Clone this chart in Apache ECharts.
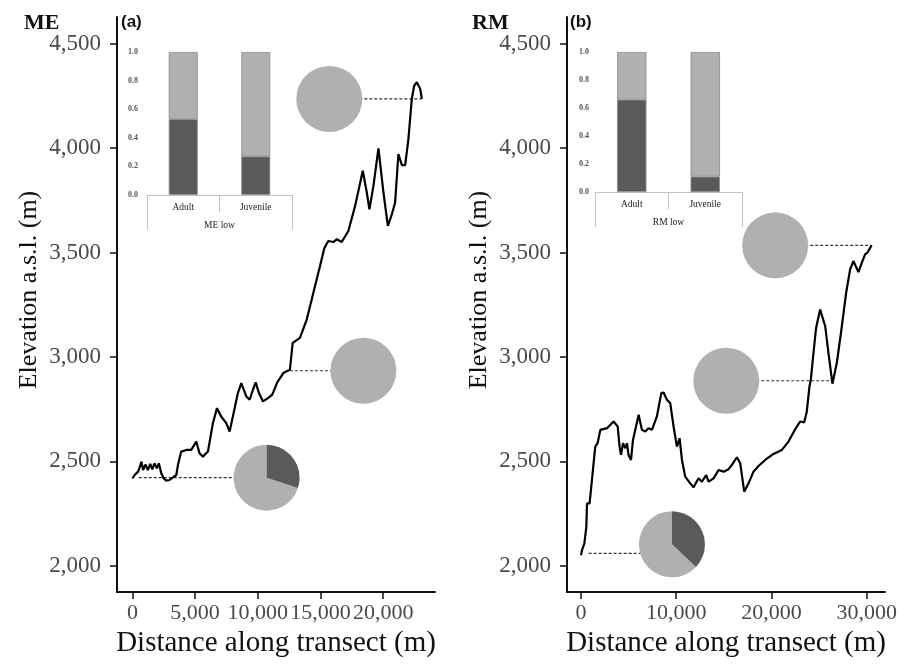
<!DOCTYPE html>
<html>
<head>
<meta charset="utf-8">
<script src="https://cdn.jsdelivr.net/npm/echarts@6/dist/echarts.min.js"></script>
<style>
html,body{margin:0;padding:0;background:#fff;}
#chart{width:909px;height:665px;}
</style>
</head>
<body>
<div id="chart"></div>
<script>
// ---------------- DATA ----------------
const yTicks = [2000, 2500, 3000, 3500, 4000, 4500];
const meXTicks = [0, 5000, 10000, 15000, 20000];
const rmXTicks = [0, 10000, 20000, 30000];
const insetTicks = [0, 0.2, 0.4, 0.6, 0.8, 1.0];
const insetCats = ['Adult', 'Juvenile'];
const meGroup = ['ME low'];
const rmGroup = ['RM low'];

// stacked proportions (dark = lower part, light = upper part)
const meDark = [0.53, 0.27];
const meLight = [0.47, 0.73];
const rmDark = [0.66, 0.11];
const rmLight = [0.34, 0.89];

// elevation profiles [distance (m), elevation (m)]
const meProfile = [
  [0,2419],[180,2435],[450,2451],[580,2472],[720,2499],[850,2459],[1050,2485],[1230,2459],
  [1420,2488],[1580,2462],[1760,2491],[1950,2467],[2110,2491],[2300,2443],[2490,2419],[2700,2408],
  [2960,2411],[3230,2424],[3500,2435],[3630,2483],[3890,2547],[4290,2555],[4690,2555],[5090,2595],
  [5350,2539],[5620,2523],[6020,2547],[6420,2683],[6740,2755],[7080,2715],[7480,2683],[7750,2643],
  [8010,2715],[8410,2827],[8680,2875],[9080,2811],[9350,2795],[9610,2843],[9830,2878],[10090,2827],
  [10410,2787],[10810,2803],[11150,2820],[11550,2878],[12030,2923],[12560,2939],[12780,3067],[13360,3091],
  [13900,3179],[14430,3307],[14960,3435],[15300,3520],[15620,3555],[16020,3550],[16290,3563],[16690,3550],
  [17220,3603],[17760,3723],[18370,3891],[18690,3787],[18900,3707],[19220,3819],[19620,3998],[20020,3787],
  [20370,3627],[20690,3683],[20950,3739],[21210,3971],[21490,3918],[21750,3918],[22010,4043],[22280,4235],
  [22470,4298],[22680,4315],[22950,4283],[23080,4235]
];
const rmProfile = [
  [0,2051],[105,2075],[350,2107],[560,2187],[630,2299],[900,2299],[1150,2411],[1320,2491],
  [1500,2571],[1740,2587],[2030,2651],[2730,2659],[3420,2691],[3850,2667],[4050,2571],[4200,2531],
  [4410,2587],[4650,2563],[4830,2587],[4990,2531],[5250,2507],[5460,2603],[5700,2651],[6050,2723],
  [6400,2651],[6750,2643],[7090,2659],[7450,2651],[7970,2715],[8430,2827],[8670,2830],[9020,2795],
  [9370,2779],[9720,2667],[10070,2571],[10350,2611],[10600,2507],[10940,2427],[11470,2395],[11820,2376],
  [12340,2419],[12700,2403],[13150,2435],[13390,2403],[13920,2419],[14440,2459],[14970,2451],[15490,2463],
  [15840,2483],[16370,2520],[16720,2491],[17140,2355],[17590,2395],[18110,2451],[18640,2478],[19340,2507],
  [20210,2536],[21090,2555],[21790,2595],[22490,2654],[23010,2691],[23430,2686],[23710,2739],[23990,2859],
  [24130,2891],[24590,3099],[24690,3140],[25110,3227],[25640,3147],[25980,3019],[26400,2872],[26860,2971],
  [27390,3147],[27840,3307],[28260,3419],[28600,3459],[29130,3406],[29490,3451],[29830,3491],[30070,3499],
  [30360,3523],[30530,3534]
];

// pies: [distance, elevation, dark fraction]
const mePies = [[15700, 4235, 0], [18420, 2934, 0], [10700, 2422, 0.30]];
const rmPies = [[20390, 3534, 0], [15250, 2886, 0], [9550, 2103, 0.37]];
// connectors: [from distance, to distance, elevation]
const meLinks = [[15700, 23080, 4235], [12560, 18420, 2934], [500, 10700, 2422]];
const rmLinks = [[20390, 30530, 3534], [15250, 26400, 2886], [800, 9550, 2060]];

const yTitle = 'Elevation a.s.l. (m)';
const xTitle = 'Distance along transect (m)';

// ---------------- STYLE ----------------
const SERIF = "'Liberation Serif', 'Times New Roman', serif";
const SANS = "'Liberation Sans', Arial, sans-serif";
const DARK = '#5a5a5a';
const LIGHT = '#b0b0b0';
const fmt = v => Number(v).toLocaleString('en-US');

function mainX(gi, min, max, ticks) {
  return {
    type: 'value', gridIndex: gi, min: min, max: max,
    name: xTitle, nameLocation: 'middle', nameGap: 33,
    nameTextStyle: { fontFamily: SERIF, fontSize: 29, color: '#111' },
    axisLine: { show: true, onZero: false, lineStyle: { color: '#111', width: 2 } },
    axisTick: { show: true, length: 7, customValues: ticks, lineStyle: { color: '#111', width: 1.5 } },
    axisLabel: { customValues: ticks, formatter: fmt, fontFamily: SERIF, fontSize: 22, color: '#4a4a4a', margin: 10, hideOverlap: false },
    splitLine: { show: false }
  };
}
function mainY(gi) {
  return {
    type: 'value', gridIndex: gi, min: 1875, max: 4627,
    axisLine: { show: true, onZero: false, lineStyle: { color: '#111', width: 2 } },
    axisTick: { show: true, length: 7, customValues: yTicks, lineStyle: { color: '#111', width: 1.5 } },
    axisLabel: { customValues: yTicks, formatter: fmt, fontFamily: SERIF, fontSize: 23, color: '#4a4a4a', margin: 16, hideOverlap: false },
    splitLine: { show: false }
  };
}
function insetX(gi, cats) {
  return {
    type: 'category', gridIndex: gi, data: cats, position: 'bottom',
    axisLine: { show: true, lineStyle: { color: '#c4c4c4', width: 1 } },
    axisTick: { show: true, length: 17, interval: 0, lineStyle: { color: '#c4c4c4', width: 1 } },
    axisLabel: { fontFamily: SERIF, fontSize: 9.5, color: '#222', margin: 7, interval: 0 },
    splitLine: { show: false }
  };
}
function insetGroupX(gi, cats) {
  return {
    type: 'category', gridIndex: gi, data: cats, position: 'bottom',
    axisLine: { show: false },
    axisTick: { show: true, length: 35, interval: 0, lineStyle: { color: '#c4c4c4', width: 1 } },
    axisLabel: { fontFamily: SERIF, fontSize: 9.5, color: '#222', margin: 25 },
    splitLine: { show: false }
  };
}
function insetY(gi, margin) {
  return {
    type: 'value', gridIndex: gi, min: 0, max: 1, interval: 0.2,
    axisLine: { show: false }, axisTick: { show: false },
    axisLabel: { customValues: insetTicks, formatter: v => Number(v).toFixed(1), fontFamily: SERIF, fontSize: 8, fontWeight: 'bold', color: '#555', margin: margin },
    splitLine: { show: false }
  };
}

function pieRender(params, api) {
  const c = api.coord([api.value(0), api.value(1)]);
  const f = api.value(2);
  const r = 33;
  const s = -Math.PI / 2;
  const children = [];
  if (f <= 0) {
    children.push({ type: 'circle', shape: { cx: c[0], cy: c[1], r: r }, style: { fill: LIGHT } });
  } else {
    children.push({ type: 'sector', shape: { cx: c[0], cy: c[1], r0: 0, r: r, startAngle: s + f * 2 * Math.PI, endAngle: s + 2 * Math.PI }, style: { fill: LIGHT } });
    children.push({ type: 'sector', shape: { cx: c[0], cy: c[1], r0: 0, r: r, startAngle: s, endAngle: s + f * 2 * Math.PI }, style: { fill: DARK } });
  }
  return { type: 'group', children: children };
}

function linkSeries(links, xi) {
  return links.map(l => ({
    type: 'line', xAxisIndex: xi, yAxisIndex: xi, data: [[l[0], l[2]], [l[1], l[2]]],
    symbol: 'none', silent: true, z: 1,
    lineStyle: { color: '#333', width: 1.2, type: [3, 2] }
  }));
}

const series = [].concat(
  linkSeries(meLinks, 0),
  linkSeries(rmLinks, 1),
  [
    { type: 'line', xAxisIndex: 0, yAxisIndex: 0, data: meProfile, symbol: 'none', z: 3,
      lineStyle: { color: '#000', width: 2.2 } },
    { type: 'line', xAxisIndex: 1, yAxisIndex: 1, data: rmProfile, symbol: 'none', z: 3,
      lineStyle: { color: '#000', width: 2.2 } },
    { type: 'custom', xAxisIndex: 0, yAxisIndex: 0, data: mePies, renderItem: pieRender, clip: false, z: 4 },
    { type: 'custom', xAxisIndex: 1, yAxisIndex: 1, data: rmPies, renderItem: pieRender, clip: false, z: 4 },
    { type: 'bar', xAxisIndex: 2, yAxisIndex: 2, stack: 'me', data: meDark, barWidth: '40%',
      itemStyle: { color: DARK, borderColor: '#8c8c8c', borderWidth: 0.8 } },
    { type: 'bar', xAxisIndex: 2, yAxisIndex: 2, stack: 'me', data: meLight, barWidth: '40%',
      itemStyle: { color: LIGHT, borderColor: '#8c8c8c', borderWidth: 0.8 } },
    { type: 'bar', xAxisIndex: 4, yAxisIndex: 3, stack: 'rm', data: rmDark, barWidth: '40%',
      itemStyle: { color: DARK, borderColor: '#8c8c8c', borderWidth: 0.8 } },
    { type: 'bar', xAxisIndex: 4, yAxisIndex: 3, stack: 'rm', data: rmLight, barWidth: '40%',
      itemStyle: { color: LIGHT, borderColor: '#8c8c8c', borderWidth: 0.8 } }
  ]
);

const option = {
  animation: false,
  backgroundColor: '#fff',
  title: [
    { text: 'ME', left: 19, top: 7, textStyle: { fontFamily: SERIF, fontWeight: 'bold', fontSize: 22, color: '#111' } },
    { text: '(a)', left: 116, top: 9, textStyle: { fontFamily: SANS, fontWeight: 'bold', fontSize: 17, color: '#111' } },
    { text: 'RM', left: 467, top: 7, textStyle: { fontFamily: SERIF, fontWeight: 'bold', fontSize: 22, color: '#111' } },
    { text: '(b)', left: 565, top: 9, textStyle: { fontFamily: SANS, fontWeight: 'bold', fontSize: 17, color: '#111' } }
  ],
  graphic: [
    { type: 'text', x: 29, y: 290, rotation: Math.PI / 2,
      style: { text: yTitle, font: "26px 'Liberation Serif', serif", fill: '#111', align: 'center', verticalAlign: 'middle' } },
    { type: 'text', x: 479, y: 290, rotation: Math.PI / 2,
      style: { text: yTitle, font: "26px 'Liberation Serif', serif", fill: '#111', align: 'center', verticalAlign: 'middle' } }
  ],
  grid: [
    { left: 117, top: 17, width: 318, height: 575 },
    { left: 567, top: 17, width: 318, height: 575 },
    { left: 147, top: 52, width: 145, height: 143 },
    { left: 595, top: 52, width: 147, height: 140 }
  ],
  xAxis: [
    mainX(0, -1230, 24130, meXTicks),
    mainX(1, -1470, 31920, rmXTicks),
    insetX(2, insetCats),
    insetGroupX(2, meGroup),
    insetX(3, insetCats),
    insetGroupX(3, rmGroup)
  ],
  yAxis: [
    mainY(0),
    mainY(1),
    insetY(2, 9),
    insetY(3, 6)
  ],
  series: series
};

const chart = echarts.init(document.getElementById('chart'), null, { renderer: 'canvas' });
chart.setOption(option);
</script>
</body>
</html>
